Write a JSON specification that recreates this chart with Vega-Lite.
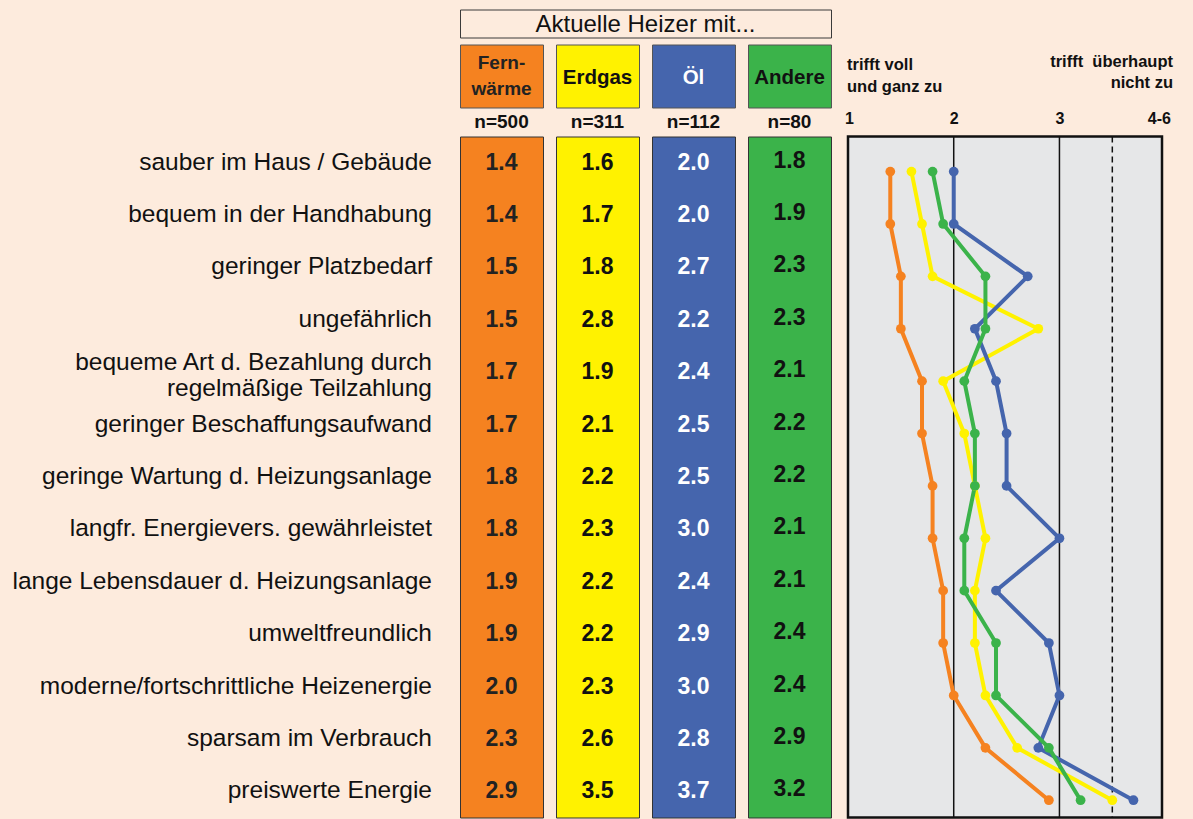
{
  "$schema": "https://vega.github.io/schema/vega-lite/v6.json",
  "background": "#FDEBDD",
  "padding": {"left": 0, "top": 8.5, "right": 20, "bottom": 0},
  "spacing": 0,
  "datasets": {
    "rows": [
      {"label": "sauber im Haus / Gebäude", "fern": 1.4, "gas": 1.6, "oel": 2.0, "andere": 1.8},
      {"label": "bequem in der Handhabung", "fern": 1.4, "gas": 1.7, "oel": 2.0, "andere": 1.9},
      {"label": "geringer Platzbedarf", "fern": 1.5, "gas": 1.8, "oel": 2.7, "andere": 2.3},
      {"label": "ungefährlich", "fern": 1.5, "gas": 2.8, "oel": 2.2, "andere": 2.3},
      {"label": "bequeme Art d. Bezahlung durch\nregelmäßige Teilzahlung", "fern": 1.7, "gas": 1.9, "oel": 2.4, "andere": 2.1},
      {"label": "geringer Beschaffungsaufwand", "fern": 1.7, "gas": 2.1, "oel": 2.5, "andere": 2.2},
      {"label": "geringe Wartung d. Heizungsanlage", "fern": 1.8, "gas": 2.2, "oel": 2.5, "andere": 2.2},
      {"label": "langfr. Energievers. gewährleistet", "fern": 1.8, "gas": 2.3, "oel": 3.0, "andere": 2.1},
      {"label": "lange Lebensdauer d. Heizungsanlage", "fern": 1.9, "gas": 2.2, "oel": 2.4, "andere": 2.1},
      {"label": "umweltfreundlich", "fern": 1.9, "gas": 2.2, "oel": 2.9, "andere": 2.4},
      {"label": "moderne/fortschrittliche Heizenergie", "fern": 2.0, "gas": 2.3, "oel": 3.0, "andere": 2.4},
      {"label": "sparsam im Verbrauch", "fern": 2.3, "gas": 2.6, "oel": 2.8, "andere": 2.9},
      {"label": "preiswerte Energie", "fern": 2.9, "gas": 3.5, "oel": 3.7, "andere": 3.2}
    ]
  },
  "vconcat": [
    {
      "spacing": 5,
      "vconcat": [
        {
          "spacing": 11,
          "hconcat": [
            {"width": 448, "height": 28, "data": {"values": [{}]}, "mark": "text", "encoding": {"text": {"value": ""}}},
            {
              "width": 371, "height": 28,
              "data": {"values": [{"t": "Aktuelle Heizer mit..."}]},
              "view": {"fill": "#FDEBDD", "stroke": "#3a3a3a", "strokeWidth": 1},
              "mark": {"type": "text", "fontSize": 24, "color": "#111", "baseline": "middle", "dy": 1},
              "encoding": {"text": {"field": "t"}}
            }
          ]
        },
        {
          "spacing": 11,
          "hconcat": [
            {"width": 448, "height": 63, "data": {"values": [{}]}, "mark": "text", "encoding": {"text": {"value": ""}}},
            {
              "width": 83, "height": 63,
              "data": {"values": [{"t": "Fern-\nwärme"}]},
              "view": {"fill": "#F58220", "stroke": "#555", "strokeWidth": 1},
              "mark": {"type": "text", "fontSize": 19, "fontWeight": "bold", "color": "#222", "lineBreak": "\n", "lineHeight": 25.5, "baseline": "middle", "dy": -13},
              "encoding": {"text": {"field": "t"}}
            },
            {
              "width": 83, "height": 63,
              "data": {"values": [{"t": "Erdgas"}]},
              "view": {"fill": "#FFF200", "stroke": "#555", "strokeWidth": 1},
              "mark": {"type": "text", "fontSize": 20.5, "fontWeight": "bold", "color": "#111", "baseline": "middle", "dy": 2},
              "encoding": {"text": {"field": "t"}}
            },
            {
              "width": 83, "height": 63,
              "data": {"values": [{"t": "Öl"}]},
              "view": {"fill": "#4565AD", "stroke": "#555", "strokeWidth": 1},
              "mark": {"type": "text", "fontSize": 20.5, "fontWeight": "bold", "color": "white", "baseline": "middle", "dy": 2},
              "encoding": {"text": {"field": "t"}}
            },
            {
              "width": 83, "height": 63,
              "data": {"values": [{"t": "Andere"}]},
              "view": {"fill": "#3BB34A", "stroke": "#555", "strokeWidth": 1},
              "mark": {"type": "text", "fontSize": 20.5, "fontWeight": "bold", "color": "#111", "baseline": "middle", "dy": 2},
              "encoding": {"text": {"field": "t"}}
            },
            {
              "width": 314, "height": 63,
              "data": {"values": [{}]},
              "layer": [
                {
                  "mark": {"type": "text", "align": "left", "baseline": "middle", "fontSize": 16.5, "fontWeight": "bold", "lineHeight": 21.5, "color": "#111", "dx": 4, "dy": -11},
                  "encoding": {"x": {"value": 0}, "text": {"value": ["trifft voll", "und ganz zu"]}}
                },
                {
                  "mark": {"type": "text", "align": "right", "baseline": "middle", "fontSize": 16.5, "fontWeight": "bold", "lineHeight": 21, "color": "#111", "dx": 16, "dy": -14},
                  "encoding": {"x": {"value": "width"}, "text": {"value": ["trifft\u00a0 überhaupt", "nicht zu"]}}
                }
              ]
            }
          ]
        }
      ]
    },
    {
      "spacing": 11,
      "hconcat": [
        {
          "width": 448, "height": 681,
          "data": {"name": "rows"},
          "layer": [
            {
              "mark": {"type": "text", "align": "right", "baseline": "middle", "fontSize": 24.5, "lineBreak": "\n", "lineHeight": 26, "color": "#111", "dx": -16},
              "encoding": {
                "x": {"value": "width"},
                "y": {"field": "label", "type": "nominal", "sort": null, "axis": null},
                "text": {"field": "label"},
                "opacity": {"condition": {"test": "indexof(datum.label, 'Teilzahlung') >= 0", "value": 0}, "value": 1}
              }
            },
            {
              "mark": {"type": "text", "align": "right", "baseline": "middle", "fontSize": 24.5, "lineBreak": "\n", "lineHeight": 26, "color": "#111", "dx": -16, "dy": -9},
              "encoding": {
                "x": {"value": "width"},
                "y": {"field": "label", "type": "nominal", "sort": null, "axis": null},
                "text": {"field": "label"},
                "opacity": {"condition": {"test": "indexof(datum.label, 'Teilzahlung') >= 0", "value": 1}, "value": 0}
              }
            }
          ]
        },
        {
          "width": 83, "height": 681,
          "data": {"name": "rows"},
          "title": {"text": "n=500", "fontSize": 19, "fontWeight": "bold", "color": "#111", "baseline": "alphabetic", "offset": -10.5, "anchor": "middle"},
          "view": {"fill": "#F58220", "stroke": "#333", "strokeWidth": 1},
          "mark": {"type": "text", "fontSize": 23, "fontWeight": "bold", "color": "#222", "baseline": "middle"},
          "encoding": {
            "y": {"field": "label", "type": "nominal", "sort": null, "axis": null},
            "text": {"field": "fern", "type": "quantitative", "format": ".1f"}
          }
        },
        {
          "width": 83, "height": 681,
          "data": {"name": "rows"},
          "title": {"text": "n=311", "fontSize": 19, "fontWeight": "bold", "color": "#111", "baseline": "alphabetic", "offset": -10.5, "anchor": "middle"},
          "view": {"fill": "#FFF200", "stroke": "#333", "strokeWidth": 1},
          "mark": {"type": "text", "fontSize": 23, "fontWeight": "bold", "color": "#111", "baseline": "middle"},
          "encoding": {
            "y": {"field": "label", "type": "nominal", "sort": null, "axis": null},
            "text": {"field": "gas", "type": "quantitative", "format": ".1f"}
          }
        },
        {
          "width": 83, "height": 681,
          "data": {"name": "rows"},
          "title": {"text": "n=112", "fontSize": 19, "fontWeight": "bold", "color": "#111", "baseline": "alphabetic", "offset": -10.5, "anchor": "middle"},
          "view": {"fill": "#4565AD", "stroke": "#333", "strokeWidth": 1},
          "mark": {"type": "text", "fontSize": 23, "fontWeight": "bold", "color": "white", "baseline": "middle"},
          "encoding": {
            "y": {"field": "label", "type": "nominal", "sort": null, "axis": null},
            "text": {"field": "oel", "type": "quantitative", "format": ".1f"}
          }
        },
        {
          "width": 83, "height": 681,
          "data": {"name": "rows"},
          "title": {"text": "n=80", "fontSize": 19, "fontWeight": "bold", "color": "#111", "baseline": "alphabetic", "offset": -10.5, "anchor": "middle"},
          "view": {"fill": "#3BB34A", "stroke": "#333", "strokeWidth": 1},
          "mark": {"type": "text", "fontSize": 23, "fontWeight": "bold", "color": "#111", "baseline": "middle", "dy": -2},
          "encoding": {
            "y": {"field": "label", "type": "nominal", "sort": null, "axis": null},
            "text": {"field": "andere", "type": "quantitative", "format": ".1f"}
          }
        },
        {
          "width": 314, "height": 681,
          "view": {"fill": "#E6E7E8", "stroke": "#111", "strokeWidth": 2.5},
          "layer": [
            {
              "data": {"values": [{"v": 2}, {"v": 3}]},
              "mark": {"type": "rule", "color": "#111", "strokeWidth": 1.5},
              "encoding": {
                "x": {
                  "field": "v", "type": "quantitative", "title": null,
                  "scale": {"domain": [1, 3.97], "nice": false, "zero": false},
                  "axis": {
                    "orient": "top", "values": [1.01, 2, 3, 3.94],
                    "labelExpr": "datum.value < 1.5 ? '1' : datum.value > 3.5 ? '4-6' : format(datum.value, 'd')",
                    "labelFontSize": 16, "labelFontWeight": "bold", "labelColor": "#111",
                    "labelFlush": false, "labelOverlap": false, "labelPadding": 13, "labelBaseline": "alphabetic",
                    "ticks": false, "tickSize": 0, "domain": false, "grid": false, "title": null
                  }
                }
              }
            },
            {
              "data": {"values": [{"v": 3.5}]},
              "mark": {"type": "rule", "color": "#111", "strokeWidth": 1.5, "strokeDash": [6, 4]},
              "encoding": {
                "x": {"field": "v", "type": "quantitative", "title": null, "scale": {"domain": [1, 3.97], "nice": false, "zero": false}}
              }
            },
            {
              "data": {"name": "rows"},
              "transform": [{"fold": ["fern", "gas", "oel", "andere"], "as": ["typ", "wert"]}],
              "mark": {"type": "line", "strokeWidth": 4},
              "encoding": {
                "x": {"field": "wert", "type": "quantitative", "title": null, "scale": {"domain": [1, 3.97], "nice": false, "zero": false}},
                "y": {"field": "label", "type": "nominal", "sort": null, "axis": null, "scale": {"type": "band", "paddingInner": 0, "paddingOuter": 0}, "bandPosition": 0.67},
                "color": {"field": "typ", "type": "nominal", "legend": null, "scale": {"domain": ["fern", "gas", "oel", "andere"], "range": ["#F58220", "#FFF200", "#4565AD", "#3BB34A"]}},
                "order": {"value": null}
              }
            },
            {
              "data": {"name": "rows"},
              "transform": [{"fold": ["fern", "gas", "oel", "andere"], "as": ["typ", "wert"]}],
              "mark": {"type": "point", "filled": true, "size": 95, "opacity": 1},
              "encoding": {
                "x": {"field": "wert", "type": "quantitative", "title": null, "scale": {"domain": [1, 3.97], "nice": false, "zero": false}},
                "y": {"field": "label", "type": "nominal", "sort": null, "axis": null, "scale": {"type": "band", "paddingInner": 0, "paddingOuter": 0}, "bandPosition": 0.67},
                "color": {"field": "typ", "type": "nominal", "legend": null, "scale": {"domain": ["fern", "gas", "oel", "andere"], "range": ["#F58220", "#FFF200", "#4565AD", "#3BB34A"]}}
              }
            }
          ]
        }
      ]
    }
  ],
  "config": {
    "font": "Liberation Sans",
    "view": {"stroke": null}
  }
}
